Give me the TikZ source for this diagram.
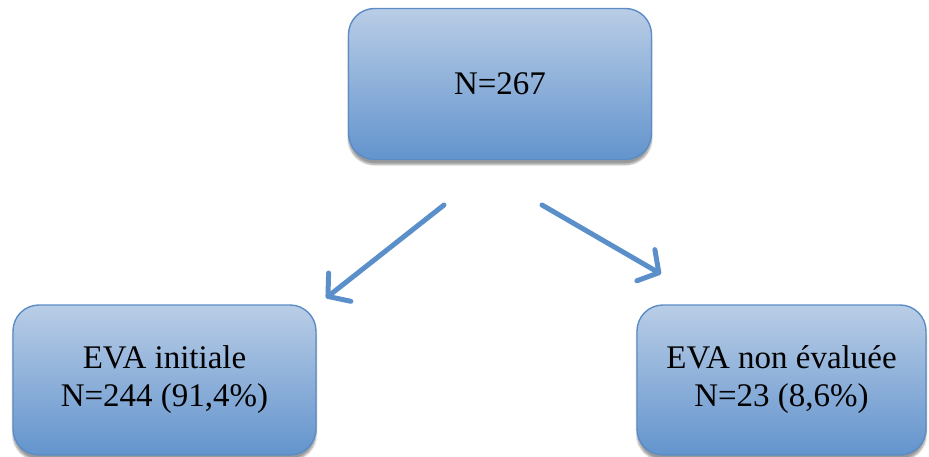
\documentclass[tikz,border=0pt]{standalone}
\usepackage{fontspec}
\setmainfont{Liberation Serif}
\usetikzlibrary{arrows.meta,shadows.blur}
\definecolor{boxtop}{HTML}{B9CDE6}
\definecolor{boxbot}{HTML}{6394CD}
\definecolor{boxline}{HTML}{5B8CC6}
\definecolor{arrowcol}{HTML}{5B8FCA}
\tikzset{
  flowbox/.style={rectangle, rounded corners=26pt, draw=boxline, line width=1.4pt,
    top color=boxtop, bottom color=boxbot, align=center,
    font=\fontsize{33}{38}\selectfont, text=black,
    blur shadow={shadow xshift=0pt, shadow yshift=-5pt, shadow blur steps=6, shadow opacity=40}},
  flowarrow/.style={draw=arrowcol, line width=5pt, line cap=round,
    -{Straight Barb[length=15pt,width=36pt,line cap=round,line join=round]}}
}
\begin{document}
\begin{tikzpicture}[x=1pt,y=-1pt]
  \useasboundingbox (0,0) rectangle (929,457);
  \node[flowbox, minimum width=303pt, minimum height=151pt] (top) at (500,84) {N=267};
  \node[flowbox, minimum width=303pt, minimum height=150pt] (left) at (164.5,380) {EVA initiale\\N=244 (91,4\%)};
  \node[flowbox, minimum width=289pt, minimum height=150pt] (right) at (781.5,380) {EVA non évaluée\\N=23 (8,6\%)};
  \coordinate (ls) at (444,205);
  \coordinate (le) at (326,298);
  \coordinate (rs) at (542,205);
  \coordinate (re) at (661,274);
  \draw[flowarrow] (ls) -- (le);
  \draw[flowarrow] (rs) -- (re);
\end{tikzpicture}
\end{document}
